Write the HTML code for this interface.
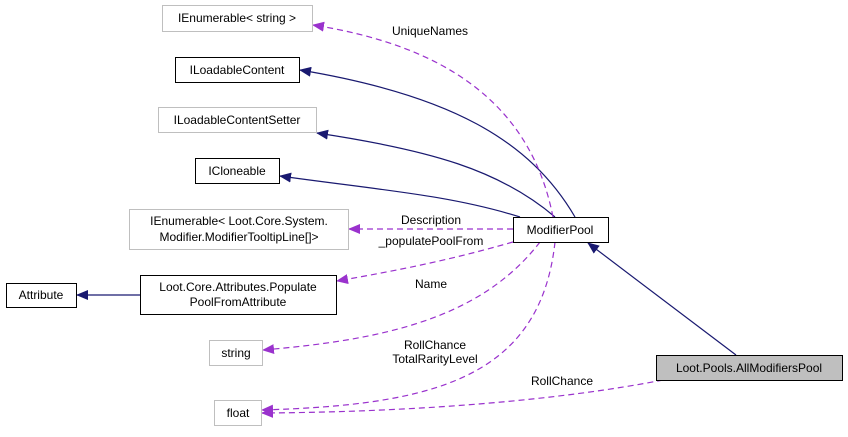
<!DOCTYPE html>
<html><head><meta charset="utf-8"><style>
body{margin:0;background:#fff}
text{font-family:"Liberation Sans",sans-serif;font-size:12px;fill:#000}
</style></head><body>
<svg width="848" height="432" viewBox="0 0 848 432" xmlns="http://www.w3.org/2000/svg">
<defs>
<marker id="n" markerWidth="12" markerHeight="10" refX="11" refY="5" orient="auto" markerUnits="userSpaceOnUse"><path d="M0,0L12,5L0,10z" fill="#191970"/></marker>
<marker id="p" markerWidth="12" markerHeight="10" refX="11" refY="5" orient="auto" markerUnits="userSpaceOnUse"><path d="M0,0L12,5L0,10z" fill="#9a32cd"/></marker>
</defs>
<g fill="none" stroke="#191970" stroke-width="1.2">
<path d="M575,217 C530,140 450,95 300,70" marker-end="url(#n)"/>
<path d="M555,217 C500,170 430,150 317,133" marker-end="url(#n)"/>
<path d="M520,217 C450,195 380,190 280,176" marker-end="url(#n)"/>
<path d="M736,355 L588,243" marker-end="url(#n)"/>
<path d="M140,295 L77,295" marker-end="url(#n)"/>
</g>
<g fill="none" stroke="#9a32cd" stroke-width="1.2" stroke-dasharray="6,4">
<path d="M553,217 C530,100 440,45 313,25" marker-end="url(#p)"/>
<path d="M513,229 L349,229" marker-end="url(#p)"/>
<path d="M513,242 C450,260 400,270 337,281" marker-end="url(#p)"/>
<path d="M540,242 C480,320 380,340 263,350" marker-end="url(#p)"/>
<path d="M555,242 C540,380 430,405 262,410" marker-end="url(#p)"/>
<path d="M663,380 C560,400 420,412 262,413" marker-end="url(#p)"/>
</g>
<g stroke-width="1">
<rect x="162.5" y="5.5" width="150" height="26" fill="#fff" stroke="#bfbfbf"/>
<rect x="175.5" y="57.5" width="124" height="25" fill="#fff" stroke="#000"/>
<rect x="158.5" y="107.5" width="158" height="25" fill="#fff" stroke="#bfbfbf"/>
<rect x="195.5" y="158.5" width="84" height="25" fill="#fff" stroke="#000"/>
<rect x="129.5" y="209.5" width="219" height="40" fill="#fff" stroke="#bfbfbf"/>
<rect x="513.5" y="217.5" width="95" height="25" fill="#fff" stroke="#000"/>
<rect x="6.5" y="283.5" width="70" height="24" fill="#fff" stroke="#000"/>
<rect x="140.5" y="275.5" width="196" height="39" fill="#fff" stroke="#000"/>
<rect x="209.5" y="340.5" width="53" height="25" fill="#fff" stroke="#bfbfbf"/>
<rect x="214.5" y="400.5" width="47" height="25" fill="#fff" stroke="#bfbfbf"/>
<rect x="656.5" y="355.5" width="186" height="25" fill="#bfbfbf" stroke="#000"/>
</g>
<g text-anchor="middle">
<text x="237" y="22">IEnumerable&lt; string &gt;</text>
<text x="237" y="74">ILoadableContent</text>
<text x="237" y="124">ILoadableContentSetter</text>
<text x="237" y="175">ICloneable</text>
<text x="239" y="225">IEnumerable&lt; Loot.Core.System.</text>
<text x="239" y="241">Modifier.ModifierTooltipLine[]&gt;</text>
<text x="560" y="234">ModifierPool</text>
<text x="41" y="299">Attribute</text>
<text x="238" y="291">Loot.Core.Attributes.Populate</text>
<text x="238" y="306">PoolFromAttribute</text>
<text x="236" y="357">string</text>
<text x="238" y="417">float</text>
<text x="749" y="372">Loot.Pools.AllModifiersPool</text>
<text x="430" y="35">UniqueNames</text>
<text x="431" y="224">Description</text>
<text x="431" y="245">_populatePoolFrom</text>
<text x="431" y="288">Name</text>
<text x="435" y="349">RollChance</text>
<text x="435" y="363">TotalRarityLevel</text>
<text x="562" y="385">RollChance</text>
</g>
</svg>
</body></html>
